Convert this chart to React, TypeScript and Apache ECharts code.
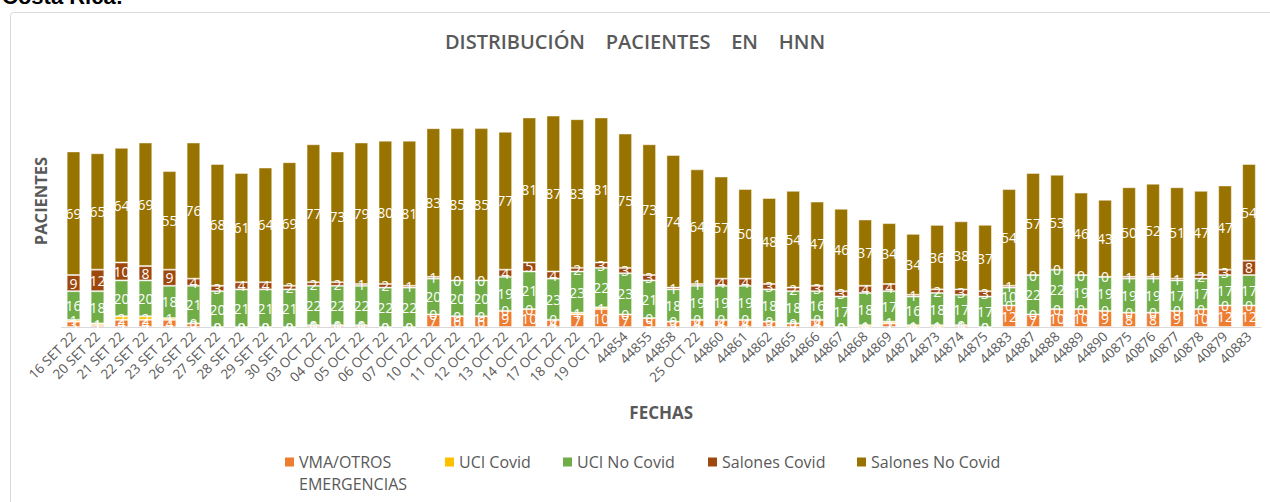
import React, { useEffect, useRef } from "react";
import * as echarts from "echarts";

const categories = [
  "16 SET 22", "20 SET 22", "21 SET 22", "22 SET 22", "23 SET 22", "26 SET 22", "27 SET 22", "28 SET 22", "29 SET 22", "30 SET 22",
  "03 OCT 22", "04 OCT 22", "05 OCT 22", "06 OCT 22", "07 OCT 22", "10 OCT 22", "11 OCT 22", "12 OCT 22", "13 OCT 22", "14 OCT 22",
  "17 OCT 22", "18 OCT 22", "19 OCT 22", "44854", "44855", "44858", "25 OCT 22", "44860", "44861", "44862",
  "44865", "44866", "44867", "44868", "44869", "44872", "44873", "44874", "44875", "44883",
  "44887", "44888", "44889", "44890", "40875", "40876", "40877", "40878", "40879", "40883",
];

const vmaOtros = [
  3, 1, 4, 4, 4, 2, 0, 0, 0, 0,
  1, 1, 1, 0, 0, 7, 6, 6, 9, 10,
  4, 7, 10, 7, 5, 3, 4, 4, 4, 3,
  2, 4, 0, 0, 2, 0, 0, 1, 0, 12,
  7, 10, 10, 9, 8, 8, 9, 10, 12, 12,
];
const uciCovid = [
  1, 1, 2, 2, 1, 0, 0, 0, 0, 0,
  0, 0, 0, 0, 0, 0, 0, 0, 0, 0,
  0, 1, 1, 0, 0, 0, 0, 0, 0, 0,
  0, 0, 0, 1, 1, 1, 1, 0, 0, 0,
  0, 0, 0, 0, 0, 0, 0, 0, 0, 0,
];
const uciNoCovid = [
  16, 18, 20, 20, 18, 21, 20, 21, 21, 21,
  22, 22, 22, 22, 22, 20, 20, 20, 19, 21,
  23, 23, 22, 23, 21, 18, 19, 19, 19, 18,
  18, 16, 17, 18, 17, 16, 18, 17, 17, 10,
  22, 22, 19, 19, 19, 19, 17, 17, 17, 17,
];
const salonesCovid = [
  9, 12, 10, 8, 9, 4, 3, 4, 4, 2,
  2, 2, 1, 2, 1, 1, 0, 0, 4, 5,
  4, 2, 3, 3, 3, 1, 1, 4, 4, 3,
  2, 3, 3, 4, 4, 1, 2, 3, 3, 1,
  0, 0, 0, 0, 1, 1, 1, 2, 3, 8,
];
const salonesNoCovid = [
  69, 65, 64, 69, 55, 76, 68, 61, 64, 69,
  77, 73, 79, 80, 81, 83, 85, 85, 77, 81,
  87, 83, 81, 75, 73, 74, 64, 57, 50, 48,
  54, 47, 46, 37, 34, 34, 36, 38, 37, 54,
  57, 53, 46, 43, 50, 52, 51, 47, 47, 54,
];

const seriesNames = ["VMA/OTROS EMERGENCIAS", "UCI Covid", "UCI No Covid", "Salones Covid", "Salones No Covid"];
const seriesData = [vmaOtros, uciCovid, uciNoCovid, salonesCovid, salonesNoCovid];
const seriesColors = ["#ED7D31", "#FFC000", "#70AD47", "#9E480E", "#997300"];
const legendLefts = [285, 445, 563, 708, 857];

const FONT = "'Open Sans', 'DejaVu Sans', sans-serif";
const GRAY = "#595959";

export default function App() {
  const ref = useRef<HTMLDivElement>(null);
  useEffect(() => {
    if (!ref.current) return;
    const chart = echarts.init(ref.current, null, { renderer: "svg" });
    const legends = seriesNames.map((name, i) => {
      const multi = name === "VMA/OTROS EMERGENCIAS";
      return {
        top: 451,
        left: legendLefts[i],
        padding: 0,
        icon: multi ? "path://M0,0L9,0L9,9L0,9Z M0,31L9,31L9,31L0,31Z" : "rect",
        itemWidth: 9,
        itemHeight: multi ? 31 : 9,
        itemGap: 0,
        selectedMode: false,
        itemStyle: { borderWidth: 0 },
        formatter: (n: string) => (n === "VMA/OTROS EMERGENCIAS" ? "VMA/OTROS\nEMERGENCIAS" : n),
        textStyle: { fontFamily: FONT, fontSize: 16, color: GRAY, lineHeight: 22 },
        data: [name],
      };
    });
    chart.setOption({
      animation: false,
      backgroundColor: "#ffffff",
      textStyle: { fontFamily: FONT },
      title: {
        text: "DISTRIBUCIÓN    PACIENTES    EN    HNN",
        left: "center",
        top: 26,
        textStyle: { fontFamily: FONT, fontSize: 20, fontWeight: 600, color: GRAY },
      },
      grid: { left: 61.5, right: 9, top: 112, bottom: 175, containLabel: false },
      legend: legends,
      xAxis: {
        type: "category",
        data: categories,
        name: "FECHAS",
        nameLocation: "middle",
        nameGap: 77,
        nameTextStyle: { fontFamily: FONT, fontSize: 17, fontWeight: "bold", color: GRAY },
        axisLine: { show: true, lineStyle: { color: "#d9d9d9", width: 1 } },
        axisTick: { show: false },
        axisLabel: { rotate: 45, fontSize: 13.5, color: GRAY, margin: 7, interval: 0, fontFamily: FONT },
      },
      yAxis: {
        type: "value",
        min: 0,
        max: 120,
        axisLine: { show: false },
        axisTick: { show: false },
        axisLabel: { show: false },
        splitLine: { show: false },
      },
      graphic: [
        {
          type: "rect",
          shape: { x: 10.5, y: 12.5, width: 1300, height: 520, r: 3 },
          style: { fill: "none", stroke: "#d9d9d9", lineWidth: 1 },
          silent: true,
          z: -1,
        },
        {
          type: "text",
          x: 2,
          y: -15,
          style: { text: "Costa Rica:", font: "bold 22px Arial, 'Liberation Sans', sans-serif", fill: "#000" },
          silent: true,
        },
        {
          type: "text",
          x: 40,
          y: 201,
          rotation: Math.PI / 2,
          style: {
            text: "PACIENTES",
            font: `bold 16.5px ${FONT}`,
            fill: GRAY,
            align: "center",
            verticalAlign: "middle",
          },
          silent: true,
        },
      ],
      series: seriesNames.map((name, i) => ({
        name,
        type: "bar",
        stack: "total",
        data: seriesData[i],
        barCategoryGap: "43%",
        itemStyle: { color: seriesColors[i], borderColor: "rgba(255,255,255,0.45)", borderWidth: 1 },
        label: {
          show: true,
          position: "inside",
          color: "#ffffff",
          fontSize: 14,
          fontFamily: FONT,
          formatter: "{c}",
        },
      })),
    });
    return () => chart.dispose();
  }, []);
  return <div ref={ref} style={{ position: "fixed", left: 0, top: 0, width: 1270, height: 502 }} />;
}
